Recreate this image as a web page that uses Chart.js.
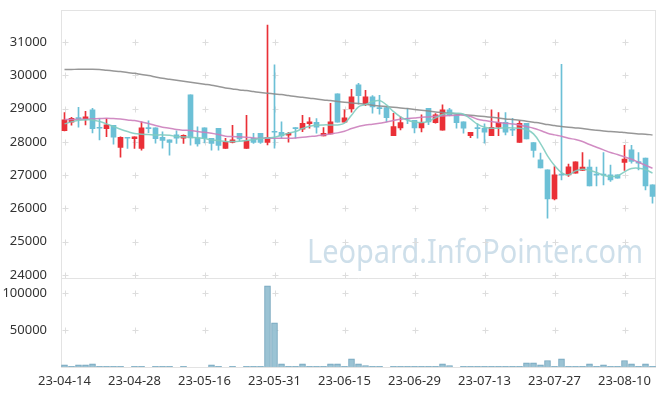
<!DOCTYPE html>
<html>
<head>
<meta charset="utf-8">
<script src="https://cdn.jsdelivr.net/npm/chart.js@4.4.0/dist/chart.umd.min.js"></script>
<style>
    html, body { margin: 0; padding: 0; background: #fff; }
    #wrap { width: 665px; height: 396px; }
</style>
</head>
<body>
<div id="wrap"><canvas id="stockchart"></canvas></div>
<script>
"use strict";

// trading days shown on the x axis
const dates = [
    "23-04-14", "23-04-17", "23-04-18", "23-04-19", "23-04-20", "23-04-21", "23-04-24", "23-04-25", "23-04-26", "23-04-27",
    "23-04-28", "23-05-02", "23-05-03", "23-05-04", "23-05-08", "23-05-09", "23-05-10", "23-05-11", "23-05-12", "23-05-15",
    "23-05-16", "23-05-17", "23-05-18", "23-05-19", "23-05-22", "23-05-23", "23-05-24", "23-05-25", "23-05-26", "23-05-30",
    "23-05-31", "23-06-01", "23-06-02", "23-06-05", "23-06-07", "23-06-08", "23-06-09", "23-06-12", "23-06-13", "23-06-14",
    "23-06-15", "23-06-16", "23-06-19", "23-06-20", "23-06-21", "23-06-22", "23-06-23", "23-06-26", "23-06-27", "23-06-28",
    "23-06-29", "23-06-30", "23-07-03", "23-07-04", "23-07-05", "23-07-06", "23-07-07", "23-07-10", "23-07-11", "23-07-12",
    "23-07-13", "23-07-14", "23-07-17", "23-07-18", "23-07-19", "23-07-20", "23-07-21", "23-07-24", "23-07-25", "23-07-26",
    "23-07-27", "23-07-28", "23-07-31", "23-08-01", "23-08-02", "23-08-03", "23-08-04", "23-08-07", "23-08-08", "23-08-09",
    "23-08-10", "23-08-11", "23-08-14", "23-08-16", "23-08-17",
];

const openPrices = [
    28340, 28590, 28720, 28690, 28960, 28430, 28400, 28500, 27830, 28130,
    28100, 27800, 28420, 28420, 28140, 28060, 28210, 28110, 29410, 28120,
    28420, 28110, 28410, 27800, 27980, 28260, 27800, 28110, 28260, 27980,
    28300, 28290, 28200, 28420, 28380, 28550, 28590, 28180, 28240, 29440,
    28590, 28990, 29710, 29130, 29350, 29020, 29030, 28190, 28420, 28700,
    28650, 28420, 29010, 28580, 28350, 28960, 28810, 28600, 28190, 28420,
    28410, 28190, 28440, 28590, 28370, 27980, 28560, 27980, 27460, 27160,
    26290, 27010, 27010, 27060, 27140, 27240, 27020, 27020, 27010, 27010,
    27380, 27760, 27410, 27510, 26710,
];
const highPrices = [
    28880, 28740, 29040, 28920, 29010, 28700, 28700, 28500, 28150, 28130,
    28150, 28600, 28630, 28420, 28300, 28060, 28330, 28210, 29410, 28450,
    28420, 28110, 28410, 28110, 28500, 28260, 28800, 28260, 28260, 31510,
    30310, 28600, 28290, 28430, 28800, 28730, 28700, 28430, 29160, 29440,
    28960, 29580, 29760, 29550, 29390, 29400, 29040, 28860, 28750, 29010,
    28650, 28810, 29010, 28850, 29110, 29010, 28810, 28600, 28290, 28540,
    28540, 28960, 28880, 28880, 28710, 28640, 28560, 27980, 27660, 27160,
    27260, 30330, 27330, 27400, 27680, 27460, 27240, 27680, 27300, 27010,
    27900, 27900, 27680, 27510, 26710,
];
const lowPrices = [
    28330, 28500, 28440, 28510, 28270, 28060, 28160, 27930, 27540, 27800,
    27800, 27750, 28280, 27960, 27810, 27600, 27950, 27950, 27900, 27870,
    27970, 27750, 27750, 27800, 27970, 28030, 27800, 27950, 27950, 27910,
    27810, 28110, 27990, 28110, 28310, 28410, 28260, 28180, 28240, 28590,
    28590, 28890, 29130, 29090, 28860, 28830, 28600, 28190, 28360, 28550,
    28270, 28300, 28520, 28560, 28350, 28780, 28410, 28260, 28130, 28110,
    27960, 28190, 28190, 28210, 28190, 27980, 28090, 27540, 27220, 25710,
    26260, 26860, 26960, 27060, 27140, 26680, 26680, 26710, 26810, 26910,
    27140, 27360, 27160, 26560, 26160,
];
const closePrices = [
    28660, 28710, 28700, 28750, 28400, 28410, 28510, 28140, 28140, 28110,
    28150, 28420, 28400, 28100, 28040, 27980, 28110, 28200, 28120, 27940,
    28110, 27950, 27890, 28000, 28060, 28090, 28040, 27980, 27980, 28140,
    28290, 28180, 28260, 28400, 28560, 28600, 28440, 28260, 28600, 28590,
    28720, 29350, 29390, 29350, 29050, 29000, 28730, 28460, 28580, 28680,
    28420, 28580, 28600, 28810, 28960, 28800, 28580, 28410, 28290, 28400,
    28290, 28440, 28590, 28290, 28350, 28560, 28090, 27740, 27220, 26290,
    27010, 27000, 27250, 27400, 27240, 26680, 27000, 27000, 26860, 26910,
    27480, 27410, 27360, 26680, 26360,
];
const volumes = [
    3000, 1000, 3000, 3000, 4300, 1000, 1000, 1000, 1000, 0,
    1000, 1000, 0, 1000, 1000, 1000, 0, 1000, 0, 0,
    0, 3000, 1000, 0, 1000, 0, 1000, 1000, 1000, 110000,
    60000, 4300, 1000, 1000, 4300, 1000, 1000, 1000, 4300, 4300,
    1000, 11000, 4300, 2000, 1000, 1000, 0, 1000, 1000, 1000,
    1000, 1000, 1000, 1000, 4300, 2000, 0, 1000, 1000, 1000,
    1000, 1000, 1000, 1000, 1000, 1000, 5700, 5700, 3000, 8800,
    1000, 11000, 1000, 1000, 1000, 4300, 1000, 3000, 1000, 1000,
    8800, 4300, 1000, 4300, 1000,
];

// moving average lines
const maShort = [
    28540, 28600, 28650, 28660, 28660, 28610, 28540, 28460, 28380, 28310,
    28250, 28230, 28220, 28210, 28210, 28200, 28160, 28150, 28140, 28120,
    28100, 28060, 28040, 28010, 28010, 28020, 28040, 28070, 28100, 28120,
    28140, 28200, 28260, 28310, 28400, 28470, 28500, 28510, 28510, 28510,
    28560, 28800, 29050, 29120, 29210, 29240, 29110, 28910, 28750, 28650,
    28600, 28580, 28620, 28720, 28820, 28860, 28860, 28830, 28690, 28530,
    28440, 28410, 28410, 28420, 28420, 28410, 28370, 28240, 27950, 27580,
    27290, 27080, 27010, 27130, 27180, 27150, 27080, 27000, 26960, 26980,
    27100, 27200, 27210, 27170, 27060,
];
const maMid = [
    28670, 28670, 28680, 28680, 28690, 28700, 28710, 28700, 28690, 28660,
    28640, 28600, 28550, 28490, 28440, 28410, 28370, 28350, 28340, 28310,
    28290, 28260, 28220, 28170, 28160, 28150, 28140, 28120, 28110, 28110,
    28110, 28110, 28110, 28120, 28140, 28160, 28180, 28210, 28240, 28270,
    28320, 28400, 28460, 28510, 28530, 28560, 28600, 28640, 28680, 28700,
    28720, 28740, 28750, 28770, 28780, 28790, 28800, 28800, 28760, 28680,
    28640, 28610, 28580, 28560, 28540, 28510, 28460, 28410, 28340, 28260,
    28210, 28170, 28110, 28070, 28010, 27920, 27840, 27760, 27680, 27620,
    27550, 27480, 27390, 27300, 27210,
];
const maLong = [
    30170, 30175, 30180, 30180, 30180, 30170, 30150, 30130, 30110, 30080,
    30060, 30020, 29990, 29950, 29910, 29880, 29850, 29820, 29790, 29760,
    29730, 29700, 29660, 29620, 29590, 29560, 29540, 29510, 29480, 29460,
    29440, 29420, 29390, 29360, 29340, 29310, 29290, 29260, 29240, 29210,
    29190, 29170, 29150, 29130, 29100, 29080, 29060, 29040, 29020, 29000,
    28970, 28950, 28930, 28900, 28880, 28860, 28840, 28820, 28800, 28780,
    28760, 28740, 28720, 28690, 28670, 28650, 28620, 28590, 28560, 28520,
    28490, 28460, 28440, 28420, 28400, 28370, 28350, 28330, 28310, 28300,
    28280, 28260, 28240, 28230, 28210,
];

const priceTicks = [24000, 25000, 26000, 27000, 28000, 29000, 30000, 31000];
const volumeTicks = [50000, 100000];

document.addEventListener("DOMContentLoaded", function () {
    const RED = "rgb(234, 48, 55)";
    const BLUE = "rgb(108, 192, 214)";
    const FONT = "'Noto Sans', 'Liberation Sans', sans-serif";

    const candleColors = openPrices.map((o, i) => (closePrices[i] >= o ? RED : BLUE));

    // --- grid crosses, frame and watermark
    const framePlugin = {
        id: "frame",
        beforeDatasetsDraw(chart) {
            const { ctx } = chart;
            const x = chart.scales.x;
            const y = chart.scales.y;
            const yv = chart.scales.yv;
            ctx.save();

            // watermark
            ctx.font = "33px " + FONT;
            const text = "Leopard.InfoPointer.com";
            const w = ctx.measureText(text).width;
            ctx.translate(307, 263);
            ctx.scale(336 / w, 1);
            ctx.fillStyle = "rgba(176, 204, 221, 0.62)";
            ctx.textBaseline = "alphabetic";
            ctx.fillText(text, 0, 0);
            ctx.setTransform(1, 0, 0, 1, 0, 0);

            // small "+" marks where the grid lines would cross
            ctx.strokeStyle = "#dddddd";
            ctx.lineWidth = 1;
            const xs = [];
            for (let i = 0; i < dates.length; i += 10) {
                xs.push(Math.round(x.getPixelForValue(i)) + 0.5);
            }
            const ys = priceTicks.map((v) => Math.round(y.getPixelForValue(v)) + 0.5)
                .concat(volumeTicks.map((v) => Math.round(yv.getPixelForValue(v)) + 0.5));
            ctx.beginPath();
            xs.forEach((px) => {
                ys.forEach((py) => {
                    ctx.moveTo(px - 3, py);
                    ctx.lineTo(px + 3, py);
                    ctx.moveTo(px, py - 3);
                    ctx.lineTo(px, py + 3);
                });
            });
            ctx.stroke();

            // plot frame and split line
            ctx.strokeStyle = "#e3e3e3";
            ctx.strokeRect(x.left + 0.5, y.top + 0.5, x.right - x.left - 1, yv.bottom - y.top);
            ctx.beginPath();
            ctx.moveTo(x.left, Math.round(y.bottom) + 0.5);
            ctx.lineTo(x.right, Math.round(y.bottom) + 0.5);
            ctx.stroke();
            ctx.restore();
        },
    };

    const tickFont = { family: FONT, size: 13 };
    const plainNumber = (v) => String(v);
    const fitY = (scale) => {
        scale.width = 61;
        scale.paddingTop = 0;
        scale.paddingBottom = 0;
    };

    new Chart(document.getElementById("stockchart"), {
        data: {
            labels: dates,
            datasets: [
                {
                    type: "line",
                    data: maShort,
                    yAxisID: "y",
                    borderColor: "rgba(128, 204, 192, 0.9)",
                    borderWidth: 1.5,
                    pointRadius: 0,
                    tension: 0.4,
                    order: 0,
                },
                {
                    type: "line",
                    data: maMid,
                    yAxisID: "y",
                    borderColor: "rgba(204, 128, 188, 0.9)",
                    borderWidth: 1.5,
                    pointRadius: 0,
                    tension: 0.4,
                    order: 0,
                },
                {
                    type: "line",
                    data: maLong,
                    yAxisID: "y",
                    borderColor: "rgba(140, 140, 140, 0.9)",
                    borderWidth: 1.5,
                    pointRadius: 0,
                    tension: 0.4,
                    order: 0,
                },
                {
                    // candle bodies
                    type: "bar",
                    data: openPrices.map((o, i) => [o, closePrices[i]]),
                    yAxisID: "y",
                    backgroundColor: candleColors,
                    barThickness: 5,
                    minBarLength: 1,
                    grouped: false,
                    order: 1,
                },
                {
                    // wicks
                    type: "bar",
                    data: lowPrices.map((l, i) => [l, highPrices[i]]),
                    yAxisID: "y",
                    backgroundColor: candleColors,
                    barThickness: 1,
                    grouped: false,
                    order: 2,
                },
                {
                    type: "bar",
                    data: volumes,
                    yAxisID: "yv",
                    backgroundColor: "rgba(150, 192, 210, 0.95)",
                    borderColor: "rgb(118, 166, 190)",
                    borderWidth: 1,
                    barThickness: 6,
                    grouped: false,
                    order: 3,
                },
            ],
        },
        options: {
            animation: false,
            responsive: true,
            maintainAspectRatio: false,
            layout: { padding: { top: 10, right: 9, left: 0, bottom: 0 } },
            plugins: { legend: { display: false }, tooltip: { enabled: false } },
            scales: {
                x: {
                    type: "category",
                    offset: true,
                    grid: { display: false },
                    border: { display: false },
                    ticks: {
                        autoSkip: false,
                        maxRotation: 0,
                        padding: -2,
                        color: "#333",
                        font: tickFont,
                        callback: (value, index) => (index % 10 === 0 ? dates[index] : null),
                    },
                    afterFit: (scale) => { scale.height = 29; },
                },
                yv: {
                    type: "linear",
                    position: "left",
                    stack: "panes",
                    stackWeight: 1,
                    min: 0,
                    max: 121000,
                    grid: { display: false },
                    border: { display: false },
                    ticks: { color: "#333", font: tickFont, padding: 6, callback: plainNumber },
                    afterBuildTicks: (scale) => {
                        scale.ticks = volumeTicks.map((v) => ({ value: v }));
                    },
                    afterFit: fitY,
                },
                y: {
                    type: "linear",
                    position: "left",
                    stack: "panes",
                    stackWeight: 3,
                    min: 23920,
                    max: 31960,
                    grid: { display: false },
                    border: { display: false },
                    ticks: { color: "#333", font: tickFont, padding: 6, callback: plainNumber },
                    afterBuildTicks: (scale) => {
                        scale.ticks = priceTicks.map((v) => ({ value: v }));
                    },
                    afterFit: fitY,
                },
            },
        },
        plugins: [framePlugin],
    });
});
</script>
</body>
</html>
